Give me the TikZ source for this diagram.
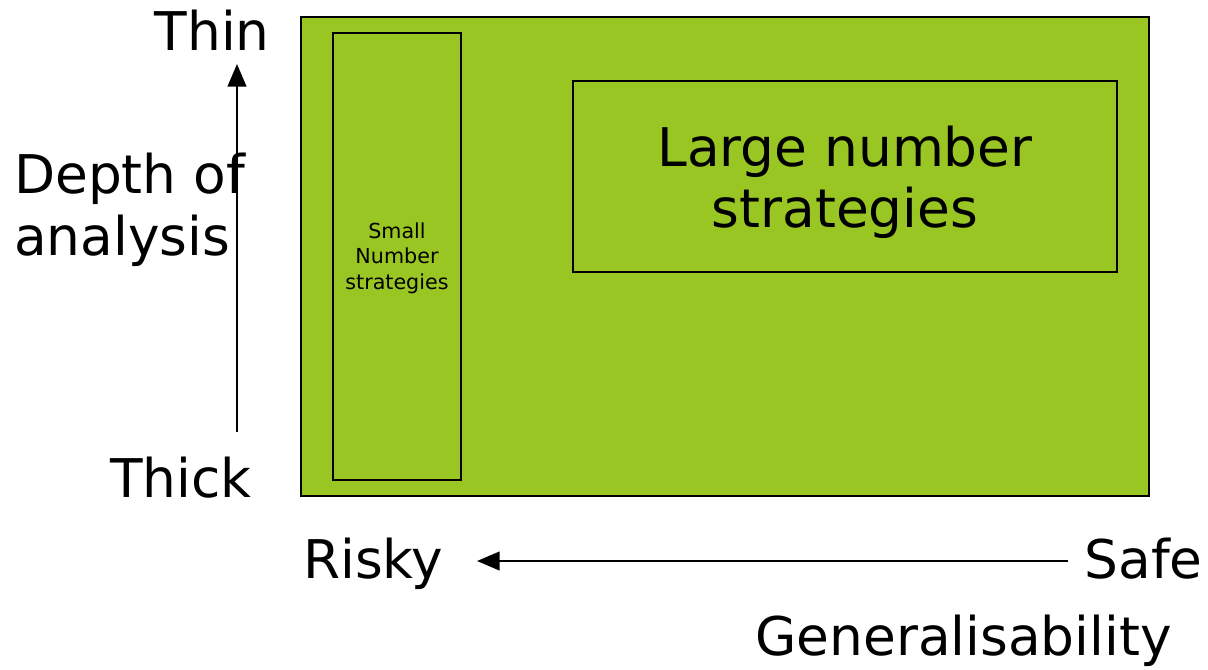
\documentclass[tikz,border=0pt]{standalone}
\usepackage{fontspec}
\setmainfont{DejaVu Sans}
\usetikzlibrary{arrows.meta}
\definecolor{panelgreen}{HTML}{9AC623}
\tikzset{
  px/.style={x=0.75pt,y=-0.75pt},
  panel/.style={draw=black,line width=2pt,fill=panelgreen},
  group/.style={draw=black,line width=1.7pt},
  big/.style={font=\fontsize{40}{46}\selectfont,inner sep=0pt},
  tiny/.style={font=\fontsize{15.5}{19}\selectfont,inner sep=0pt,align=center},
  tipshape/.tip={Triangle[length=17pt,width=14pt]},
  axis/.style={line width=1.7pt,-tipshape}
}
\begin{document}
\begin{tikzpicture}[px]
  \useasboundingbox (0,0) rectangle (1208,669);
  % plotting field
  \draw[panel] (301,17) rectangle (1149,496);
  \draw[group] (333,33) rectangle (461,480);
  \draw[group] (573,81) rectangle (1117,272);
  \node[big,align=center] (large) at (845,182) {Large number\\strategies};
  \node[tiny] (small) at (397,258) {Small\\Number\\strategies};
  % vertical axis
  \node[big,anchor=base east] (thin) at (270,50) {Thin};
  \node[big,anchor=base east] (thick) at (252,497) {Thick};
  \node[big,anchor=base west] (depth) at (14,193) {Depth of};
  \node[big,anchor=base west] (analysis) at (14,255) {analysis};
  \coordinate (vbot) at (237,432);
  \coordinate (vtop) at (237,64);
  \draw[axis] (vbot) -- (vtop);
  % horizontal axis
  \node[big,anchor=base west] (risky) at (303,578) {Risky};
  \node[big,anchor=base east] (safe) at (1203,578) {Safe};
  \node[big,anchor=base east] (gen) at (1172,655) {Generalisability};
  \coordinate (hright) at (1068,561);
  \coordinate (hleft) at (477,561);
  \draw[axis] (hright) -- (hleft);
\end{tikzpicture}
\end{document}
